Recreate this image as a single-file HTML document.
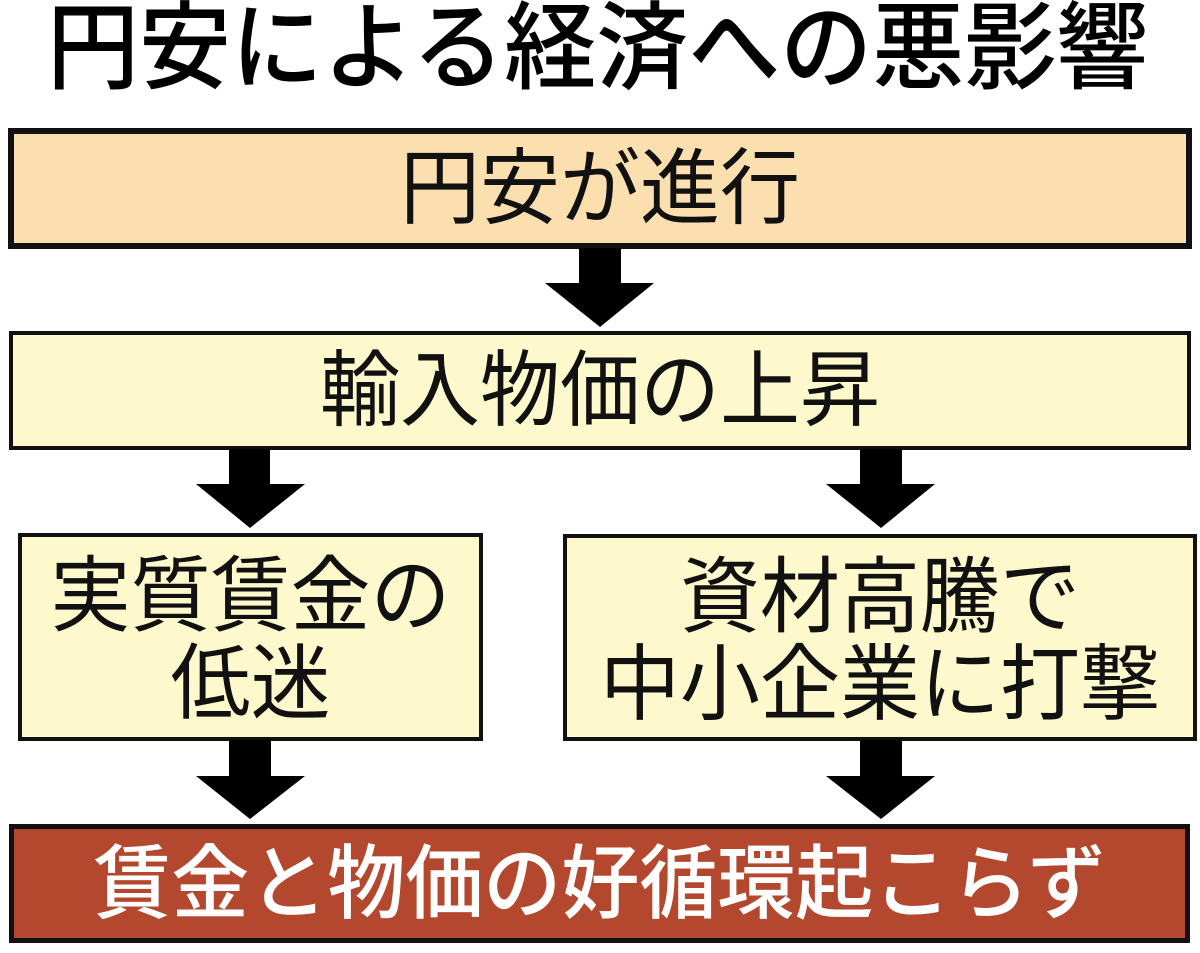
<!DOCTYPE html>
<html>
<head>
<meta charset="utf-8">
<style>
  html, body { margin:0; padding:0; }
  body { width:1200px; height:953px; background:#ffffff; position:relative; overflow:hidden;
         font-family:"Liberation Sans","Noto Sans CJK JP",sans-serif; }
  .abs { position:absolute; box-sizing:border-box; }
  .title { left:47px; top:1px; width:1120px; font-size:92px; line-height:92px; font-weight:500;
           color:#000; white-space:nowrap; transform:scaleY(1.04); transform-origin:0 0; }
  .box { display:flex; align-items:center; justify-content:center; text-align:center;
         border-style:solid; border-color:#111; color:#111; font-weight:400; white-space:nowrap; }
  .box > div { transform:scaleY(1.04); }
  .b1 { left:8px; top:128px; width:1184px; height:121px; border-width:6px; background:#FCDFAE;
        font-size:80px; line-height:80px; }
  .b2 { left:9px; top:331px; width:1182px; height:119px; border-width:4px; background:#FEF9CC;
        font-size:80px; line-height:80px; }
  .b3 { left:18px; top:533px; width:465px; height:208px; border-width:4px; background:#FEF9CC;
        font-size:80px; line-height:84px; padding-top:6px; }
  .b4 { left:563px; top:534px; width:634px; height:207px; border-width:4px; background:#FEF9CC;
        font-size:80px; line-height:84px; padding-top:6px; }
  .b5 { left:9px; top:824px; width:1181px; height:119px; border-width:5px; background:#B4482F;
        color:#fff; font-weight:500; font-size:78px; line-height:78px; }
</style>
</head>
<body>
<div class="abs title">円安による経済への悪影響</div>

<div class="abs box b1"><div>円安が進行</div></div>
<div class="abs box b2"><div>輸入物価の上昇</div></div>
<div class="abs box b3"><div>実質賃金の<br>低迷</div></div>
<div class="abs box b4"><div>資材高騰で<br>中小企業に打撃</div></div>
<div class="abs box b5"><div>賃金と物価の好循環起こらず</div></div>

<svg class="abs" style="left:0;top:0" width="1200" height="953" viewBox="0 0 1200 953">
  <g fill="#000">
    <polygon points="579,248 621,248 621,283 654,283 600,327 545,283 579,283"/>
    <polygon points="229,449 270,449 270,484 305,484 250,528 196,484 229,484"/>
    <polygon points="860,449 902,449 902,484 935,484 881,528 826,484 860,484"/>
    <polygon points="229,740 271,740 271,776 305,776 250,819 196,776 229,776"/>
    <polygon points="860,740 902,740 902,776 935,776 881,819 826,776 860,776"/>
  </g>
</svg>
</body>
</html>
